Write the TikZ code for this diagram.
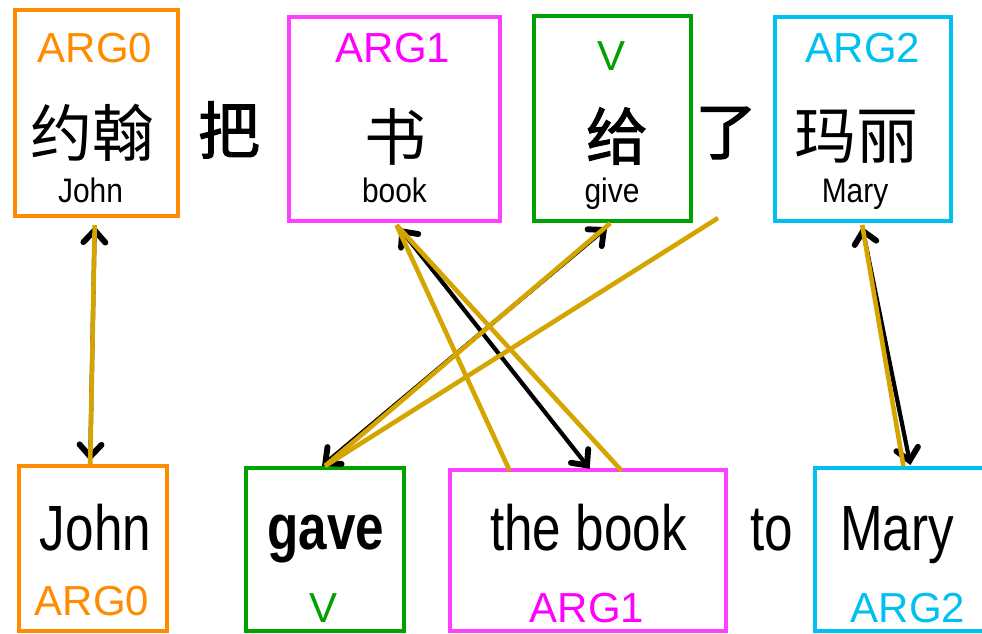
\documentclass[tikz,border=0pt]{standalone}
\usepackage{fontspec}
\setmainfont{Liberation Sans}
\newfontfamily\cjk{Noto Sans CJK SC}
\newfontfamily\cjkheavy[FakeBold=1.6]{Noto Sans CJK SC}
\newfontfamily\narrow[FakeStretch=0.8]{Liberation Sans}
\newfontfamily\narrowgloss[FakeStretch=0.88]{Liberation Sans}
\usetikzlibrary{arrows.meta}

\definecolor{argzero}{RGB}{255,140,0}
\definecolor{argone}{RGB}{255,64,255}
\definecolor{argonetext}{RGB}{255,0,255}
\definecolor{verb}{RGB}{0,162,0}
\definecolor{argtwo}{RGB}{0,192,242}
\definecolor{gold}{RGB}{212,165,0}

\tikzset{
  box/.style={draw,line width=4pt,inner sep=0pt},
  role/.style={font=\fontsize{42}{42}\selectfont,anchor=base,inner sep=0pt},
  zh/.style={font=\cjk\fontsize{62}{62}\selectfont,inner sep=0pt},
  zhbold/.style={font=\cjkheavy\fontsize{62}{62}\selectfont,inner sep=0pt},
  gloss/.style={font=\narrowgloss\fontsize{34}{34}\selectfont,anchor=base,inner sep=0pt},
  word/.style={font=\narrow\fontsize{64}{64}\selectfont,anchor=base,inner sep=0pt},
  barb/.tip={Straight Barb[length=12pt,width=22pt,line width=0pt 1.4 1,line cap=round]},
  link/.style={line width=4.2pt,line cap=round,barb-barb},
  align/.style={line width=4.6pt,gold},
}

\begin{document}
\begin{tikzpicture}[x=1pt,y=-1pt]
  \useasboundingbox (0,0) rectangle (982,633);

  % chinese sentence
  \node[box,argzero,minimum width=163pt,minimum height=206pt] (t0) at (96.7,113) {};
  \node[box,argone,minimum width=211pt,minimum height=204pt] (t1) at (394.5,119) {};
  \node[box,verb,minimum width=157pt,minimum height=205pt] (tv) at (612.2,118.7) {};
  \node[box,argtwo,minimum width=176pt,minimum height=204pt] (t2) at (862.7,118.8) {};

  \node[role,argzero] (t0r) at (95,62) {ARG0};
  \node[zh] (t0z) at (92,133) {约翰};
  \node[gloss] (t0g) at (90.5,202) {John};

  \node[zhbold] (ba) at (229,130) {把};

  \node[role,argonetext] (t1r) at (393,62) {ARG1};
  \node[zh] (t1z) at (395,137) {书};
  \node[gloss] (t1g) at (394.5,202) {book};

  \node[role,verb] (tvr) at (611,70) {V};
  \node[zhbold] (tvz) at (617,136) {给};
  \node[gloss] (tvg) at (612,202) {give};

  \node[zhbold] (le) at (726,133) {了};
  \coordinate (le-foot) at (718,218);

  \node[role,argtwo] (t2r) at (863,62) {ARG2};
  \node[zh] (t2z) at (856,137) {玛丽};
  \node[gloss] (t2g) at (855,202) {Mary};

  % english sentence
  \node[box,argzero,minimum width=147.5pt,minimum height=164.7pt] (b0) at (93.2,548.3) {};
  \node[box,verb,minimum width=157.6pt,minimum height=163pt] (bv) at (325,549.5) {};
  \node[box,argone,minimum width=276pt,minimum height=161pt] (b1) at (587.7,550.3) {};
  \node[box,argtwo,minimum width=177pt,minimum height=163pt] (b2) at (903.4,549.5) {};

  \node[word] (b0w) at (95.5,550) {John};
  \node[role,argzero] (b0r) at (92,615) {ARG0};
  \node[word,font=\narrow\bfseries\fontsize{64}{64}\selectfont] (bvw) at (326,549) {gave};
  \node[role,verb] (bvr) at (324,622) {V};
  \node[word] (b1w) at (588.5,550) {the book};
  \node[role,argonetext] (b1r) at (587,622) {ARG1};
  \node[word] (to) at (771.5,550) {to};
  \node[word] (b2w) at (897,550) {Mary};
  \node[role,argtwo] (b2r) at (908,622) {ARG2};

  \draw[link] ([xshift=-2pt,yshift=-8pt]t0.south) -- ([xshift=-3pt,yshift=3pt]b0.north);
  \draw[link] ([xshift=5pt,yshift=-5pt]t1.south) -- ([xshift=2pt,yshift=-1pt]b1.north);
  \draw[link] ([xshift=-5pt,yshift=-4pt]tv.south) -- ([xshift=-3pt]bv.north);
  \draw[link] ([xshift=-0.5pt,yshift=-4pt]t2.south) -- ([xshift=7pt,yshift=1pt]b2.north);

  \draw[align] ([xshift=-2pt,yshift=-7pt]t0.south) -- ([xshift=-3pt]b0.north);
  \draw[align] ([xshift=2pt,yshift=-2pt]t1.south) -- ([xshift=-78pt,yshift=-3pt]b1.north);
  \draw[align] ([xshift=2pt,yshift=-2pt]t1.south) -- ([xshift=34pt,yshift=-3pt]b1.north);
  \draw[align] ([xshift=-2pt]tv.south) -- (bv.north);
  \draw[align] (le-foot) -- (bv.north);
  \draw[align] ([xshift=-0.5pt,yshift=-2pt]t2.south) -- ([xshift=0pt]b2.north);
\end{tikzpicture}
\end{document}
